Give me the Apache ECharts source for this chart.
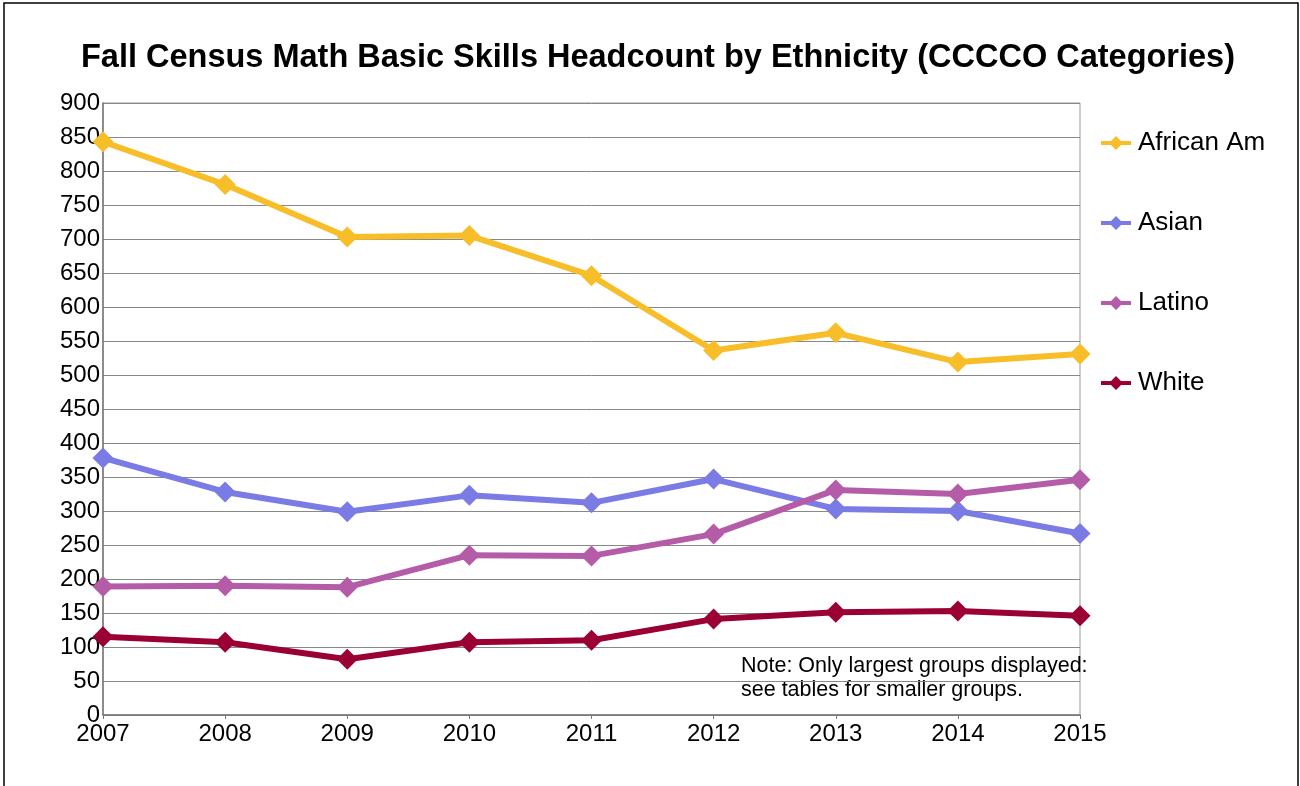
<!DOCTYPE html>
<html><head><meta charset="utf-8">
<script src="https://cdn.jsdelivr.net/npm/echarts@6/dist/echarts.min.js"></script>
<style>html,body{margin:0;padding:0;background:#fff}#c{width:1300px;height:786px}</style>
</head><body><div id="c"></div>
<script>
const years = ['2007','2008','2009','2010','2011','2012','2013','2014','2015'];
const africanAm = [843, 780, 703, 705, 646, 536, 562, 519, 531];
const asian = [378, 328, 299, 323, 312, 347, 303, 300, 267];
const latino = [189, 190, 188, 235, 234, 266, 331, 325, 346];
const white = [115, 107, 82, 107, 110, 141, 151, 153, 146];
const seriesNames = ['African Am', 'Asian', 'Latino', 'White'];
const seriesColors = ['#F8BE2A', '#7A7BE4', '#B55CA8', '#9A0033'];
const seriesData = [africanAm, asian, latino, white];

const chart = echarts.init(document.getElementById('c'));
const font = 'Liberation Sans, Arial, sans-serif';
chart.setOption({
  animation: false,
  backgroundColor: '#fff',
  title: {
    text: 'Fall Census Math Basic Skills Headcount by Ethnicity (CCCCO Categories)',
    left: 653, textAlign: 'center', top: 37,
    textStyle: { fontFamily: font, fontSize: 32.5, fontWeight: 'bold', color: '#000' }
  },
  legend: {
    orient: 'vertical', left: 1096, top: 125, itemGap: 54,
    itemWidth: 30, itemHeight: 28,
    data: seriesNames.map((n, i) => ({ name: n, icon: 'path://M0,12 L10,12 L15,7 L20,12 L30,12 L30,16 L20,16 L15,21 L10,16 L0,16 Z' })),
    textStyle: { fontFamily: font, fontSize: 26, color: '#000', padding: [0, 0, 0, 2] }
  },
  grid: { left: 103, right: 220, top: 103, bottom: 71, show: true, borderColor: '#999', borderWidth: 1 },
  xAxis: {
    type: 'category', data: years, boundaryGap: false,
    axisLine: { lineStyle: { color: '#777', width: 1.5 } },
    axisTick: { show: true, length: 4, lineStyle: { color: '#777' } },
    axisLabel: { fontFamily: font, fontSize: 24, color: '#000', margin: 7 },
    splitLine: { show: false }
  },
  yAxis: {
    type: 'value', min: 0, max: 900, interval: 50,
    axisLine: { show: true, lineStyle: { color: '#777', width: 1.5 } },
    axisTick: { show: false },
    axisLabel: { fontFamily: font, fontSize: 24, color: '#000', margin: 3 },
    splitLine: { lineStyle: { color: '#888', width: 1 } }
  },
  series: seriesData.map((d, i) => ({
    name: seriesNames[i], type: 'line', data: d,
    symbol: 'diamond', symbolSize: 21,
    lineStyle: { width: 6, color: seriesColors[i] },
    itemStyle: { color: seriesColors[i] },
    color: seriesColors[i]
  })),
  graphic: [
    { type: 'rect', shape: { x: 4, y: 3, width: 1294, height: 800 }, style: { fill: 'none', stroke: '#000', lineWidth: 1.5 }, silent: true },
    { type: 'text', left: 741, top: 654, style: { text: 'Note: Only largest groups displayed:\nsee tables for smaller groups.', font: '21.5px Liberation Sans, Arial, sans-serif', fill: '#000', lineHeight: 24 } }
  ]
});
</script></body></html>
